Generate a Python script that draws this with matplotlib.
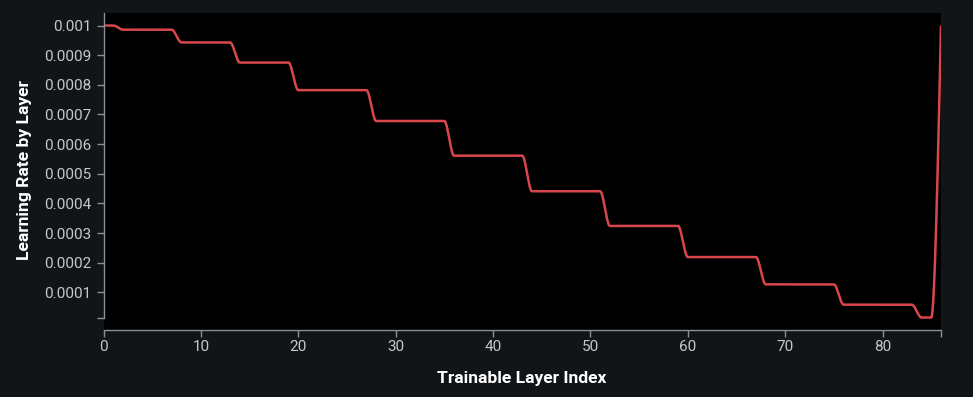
import numpy as np
import matplotlib
matplotlib.use('Agg')
import matplotlib.pyplot as plt

# learning rate per trainable layer (87 layers, index 0..86)
lr_by_layer = [
    0.001, 0.001,
    0.000986, 0.000986, 0.000986, 0.000986, 0.000986, 0.000986,
    0.000943, 0.000943, 0.000943, 0.000943, 0.000943, 0.000943,
    0.000875, 0.000875, 0.000875, 0.000875, 0.000875, 0.000875,
    0.000782, 0.000782, 0.000782, 0.000782, 0.000782, 0.000782, 0.000782, 0.000782,
    0.000678, 0.000678, 0.000678, 0.000678, 0.000678, 0.000678, 0.000678, 0.000678,
    0.000561, 0.000561, 0.000561, 0.000561, 0.000561, 0.000561, 0.000561, 0.000561,
    0.000441, 0.000441, 0.000441, 0.000441, 0.000441, 0.000441, 0.000441, 0.000441,
    0.000324, 0.000324, 0.000324, 0.000324, 0.000324, 0.000324, 0.000324, 0.000324,
    0.000219, 0.000219, 0.000219, 0.000219, 0.000219, 0.000219, 0.000219, 0.000219,
    0.000127, 0.000127, 0.000127, 0.000127, 0.000127, 0.000127, 0.000127, 0.000127,
    0.0000585, 0.0000585, 0.0000585, 0.0000585, 0.0000585, 0.0000585, 0.0000585, 0.0000585,
    0.0000150, 0.0000150,
    0.001,
]
layer_index = list(range(len(lr_by_layer)))

y_ticks = [0.0001, 0.0002, 0.0003, 0.0004, 0.0005, 0.0006, 0.0007, 0.0008, 0.0009, 0.001]
y_labels = ['0.0001', '0.0002', '0.0003', '0.0004', '0.0005', '0.0006', '0.0007', '0.0008', '0.0009', '0.001']
x_ticks = [0, 10, 20, 30, 40, 50, 60, 70, 80]


def monotone_curve(x, y, per_seg=24):
    # monotone cubic interpolation (same rule as d3.curveMonotoneX)
    x = np.asarray(x, float)
    y = np.asarray(y, float)
    h = np.diff(x)
    s = np.diff(y) / h
    t = np.zeros(len(x))
    for i in range(1, len(x) - 1):
        s0, s1 = s[i - 1], s[i]
        p = (s0 * h[i] + s1 * h[i - 1]) / (h[i - 1] + h[i])
        t[i] = (np.sign(s0) + np.sign(s1)) * min(abs(s0), abs(s1), 0.5 * abs(p))
    t[0] = (3 * s[0] - t[1]) / 2
    t[-1] = (3 * s[-1] - t[-2]) / 2
    xs, ys = [], []
    for i in range(len(x) - 1):
        u = np.linspace(0, 1, per_seg, endpoint=False)
        h00 = 2 * u**3 - 3 * u**2 + 1
        h10 = u**3 - 2 * u**2 + u
        h01 = -2 * u**3 + 3 * u**2
        h11 = u**3 - u**2
        xs.append(x[i] + u * h[i])
        ys.append(h00 * y[i] + h10 * h[i] * t[i] + h01 * y[i + 1] + h11 * h[i] * t[i + 1])
    xs.append([x[-1]])
    ys.append([y[-1]])
    return np.concatenate(xs), np.concatenate(ys)


bg = '#111518'
axis_grey = '#8c8f92'
label_grey = '#c6c8ca'

W, H = 973, 397
fig = plt.figure(figsize=(W / 100, H / 100), dpi=100, facecolor=bg)
ax = fig.add_axes([103.5 / W, (H - 330) / H, (941 - 103.5) / W, (330 - 13) / H])
ax.set_facecolor('black')

cx, cy = monotone_curve(layer_index, lr_by_layer)
ax.plot(cx, cy, color='#d9464b', linewidth=1.8, solid_capstyle='butt')

y_min = min(lr_by_layer)
ax.set_xlim(0, 86)
ax.set_ylim(-0.0000270, 0.0010422)

for side in ['top', 'right']:
    ax.spines[side].set_visible(False)
ax.spines['left'].set_color(axis_grey)
ax.spines['bottom'].set_color(axis_grey)
ax.spines['left'].set_linewidth(1)
ax.spines['bottom'].set_linewidth(1)
ax.spines['left'].set_bounds(y_min, 0.0010422)

ax.set_yticks([y_min] + y_ticks)
ax.set_yticklabels([''] + y_labels)
ax.set_xticks(x_ticks + [86])
ax.set_xticklabels([str(v) for v in x_ticks] + [''])

ax.tick_params(axis='both', colors=axis_grey, labelcolor=label_grey, length=5, width=1,
               labelsize=11)
ax.tick_params(axis='y', pad=3.6)
ax.tick_params(axis='x', pad=2)
for lab in ax.get_xticklabels() + ax.get_yticklabels():
    lab.set_fontfamily('Roboto')

fig.text(522 / W, 1 - 379 / H, 'Trainable Layer Index', ha='center', va='center',
         color='white', fontsize=12.6, fontweight='bold', family='Roboto')
fig.text(25 / W, 1 - 170 / H, 'Learning Rate by Layer', ha='center', va='center',
         rotation=90, color='white', fontsize=12.6, fontweight='bold', family='Roboto')

fig.savefig('out.png', dpi=100, facecolor=bg)
